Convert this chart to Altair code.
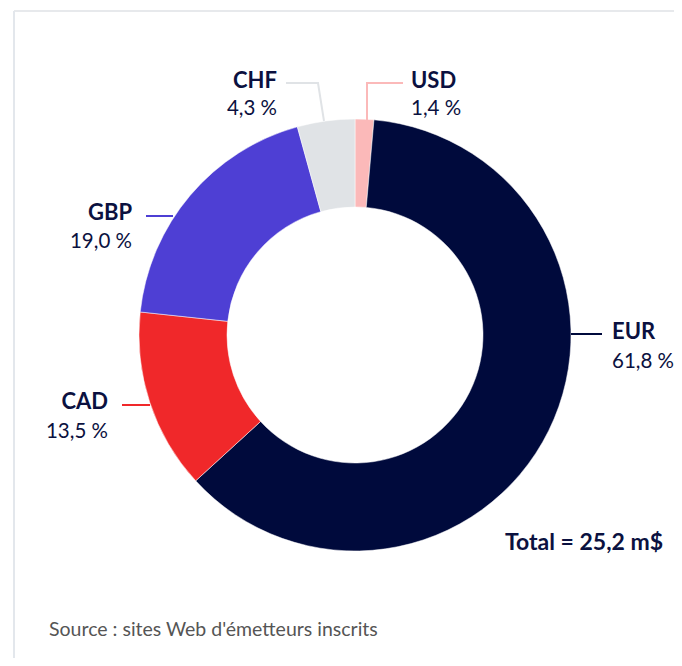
import altair as alt
import pandas as pd

# ---- data ----
currencies = ["USD", "EUR", "CAD", "GBP", "CHF"]
shares = [1.4, 61.8, 13.5, 19.0, 4.3]
colors = ["#fbb9b9", "#000a3c", "#f0282a", "#4e3fd4", "#e0e3e6"]
total_label = "Total = 25,2 m$"
source_label = "Source : sites Web d'émetteurs inscrits"

# ---- layout (pixels in chart coordinates) ----
W, H = 666, 650
CX, CY = 347, 327
R_OUT, R_IN = 216, 128
TEXT_COLOR = "#0b1140"
FONT = "Lato"

label_x = {"USD": 403, "EUR": 604, "CAD": 100, "GBP": 124, "CHF": 269}
name_y = {"USD": 80, "EUR": 331, "CAD": 401, "GBP": 212, "CHF": 80}
pct_y = {"USD": 107, "EUR": 360, "CAD": 430, "GBP": 240, "CHF": 107}
label_align = {"USD": "left", "EUR": "left", "CAD": "right", "GBP": "right", "CHF": "right"}
leader_pts = {
    "CHF": [(278, 75), (310, 75), (316, 113)],
    "USD": [(359, 113), (359, 75), (395, 75)],
    "EUR": [(563, 326), (594, 326)],
    "GBP": [(138, 208), (165, 208)],
    "CAD": [(114, 397), (142, 397)],
}

color_scale = alt.Scale(domain=currencies, range=colors)

pie_df = pd.DataFrame({"currency": currencies, "share": shares, "ord": list(range(len(currencies)))})

arcs = alt.Chart(pie_df).mark_arc(
    outerRadius=R_OUT, innerRadius=R_IN, stroke="white", strokeWidth=0.5
).encode(
    theta=alt.Theta("share:Q", stack=True),
    order=alt.Order("ord:Q"),
    color=alt.Color("currency:N", scale=color_scale, legend=None),
    x=alt.value(CX),
    y=alt.value(CY),
)

lead_rows = []
for c, pts in leader_pts.items():
    for i, (px, py) in enumerate(pts):
        lead_rows.append({"currency": c, "i": i, "px": px, "py": py})
lead_df = pd.DataFrame(lead_rows)

leaders = alt.Chart(lead_df).mark_line(strokeWidth=2).encode(
    x=alt.X("px:Q", scale=None, axis=None),
    y=alt.Y("py:Q", scale=None, axis=None),
    detail="currency:N",
    order="i:Q",
    color=alt.Color("currency:N", scale=color_scale, legend=None),
)

lab_rows = []
for c, s in zip(currencies, shares):
    lab_rows.append({
        "currency": c,
        "pct": f"{s:.1f}".replace(".", ",") + " %",
        "lx": label_x[c],
        "ny": name_y[c],
        "py": pct_y[c],
        "align": label_align[c],
    })
lab_df = pd.DataFrame(lab_rows)

text_layers = []
for al in ["left", "right"]:
    base = alt.Chart(lab_df).transform_filter(alt.datum.align == al)
    text_layers.append(
        base.mark_text(align=al, baseline="alphabetic", font=FONT, fontSize=22,
                       fontWeight="bold", color=TEXT_COLOR).encode(
            x=alt.X("lx:Q", scale=None, axis=None),
            y=alt.Y("ny:Q", scale=None, axis=None),
            text="currency:N",
        )
    )
    text_layers.append(
        base.mark_text(align=al, baseline="alphabetic", font=FONT, fontSize=20.5,
                       color=TEXT_COLOR).encode(
            x=alt.X("lx:Q", scale=None, axis=None),
            y=alt.Y("py:Q", scale=None, axis=None),
            text="pct:N",
        )
    )

notes_df = pd.DataFrame({"t": [total_label]})
total = alt.Chart(notes_df).mark_text(
    align="left", baseline="alphabetic", font=FONT, fontSize=23, fontWeight="bold", color=TEXT_COLOR
).encode(x=alt.value(497), y=alt.value(542), text="t:N")

src_df = pd.DataFrame({"t": [source_label]})
source = alt.Chart(src_df).mark_text(
    align="left", baseline="alphabetic", font=FONT, fontSize=19.5, color="#555555"
).encode(x=alt.value(41), y=alt.value(628), text="t:N")

border_top = alt.Chart(notes_df).mark_rule(color="#e7e9ec", strokeWidth=2).encode(
    x=alt.value(6), x2=alt.value(W), y=alt.value(3)
)
border_left = alt.Chart(notes_df).mark_rule(color="#e3e7ec", strokeWidth=2).encode(
    x=alt.value(6), y=alt.value(3), y2=alt.value(H)
)

chart = alt.layer(
    border_top, border_left, arcs, leaders, *text_layers, total, source
).properties(
    width=W, height=H, autosize=alt.AutoSizeParams(type="none"), padding=0
).configure_view(stroke=None)

chart.save("out.html", embed_options={"renderer": "svg", "actions": False})
